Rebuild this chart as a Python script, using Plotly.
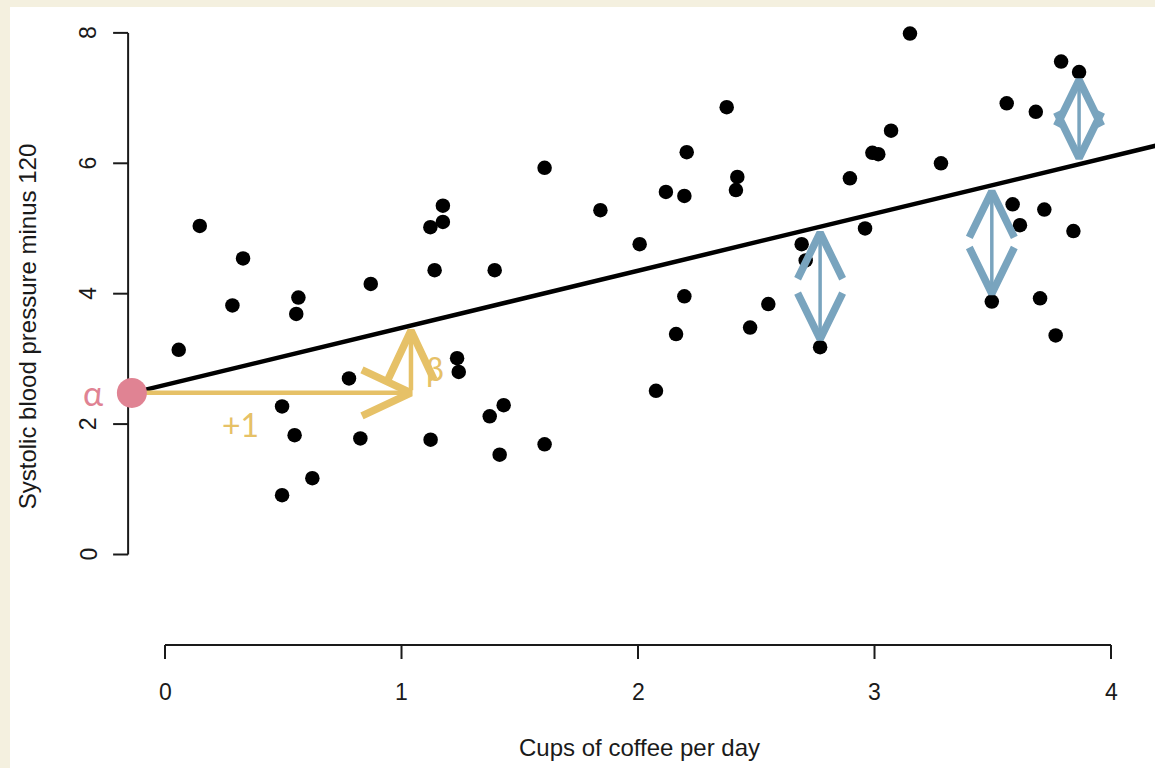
import plotly.graph_objects as go

# Observations: cups of coffee per day vs systolic blood pressure minus 120
cups = [0.058, 0.147, 0.285, 0.330, 0.495, 0.495, 0.548, 0.555, 0.564, 0.623,
        0.778, 0.826, 0.870, 1.122, 1.123, 1.140, 1.175, 1.175, 1.235, 1.242,
        1.373, 1.394, 1.415, 1.432, 1.605, 1.605, 1.841, 2.007, 2.076, 2.118,
        2.161, 2.196, 2.196, 2.206, 2.474, 2.375, 2.420, 2.414, 2.551, 2.692,
        2.709, 2.770, 2.896, 2.960, 2.991, 3.016, 3.070, 3.150, 3.281, 3.496,
        3.559, 3.584, 3.615, 3.682, 3.700, 3.718, 3.766, 3.789, 3.841, 3.865]
pressure = [3.14, 5.04, 3.82, 4.54, 2.27, 0.91, 1.83, 3.69, 3.94, 1.17,
            2.70, 1.78, 4.15, 5.02, 1.76, 4.36, 5.35, 5.10, 3.01, 2.80,
            2.12, 4.36, 1.53, 2.29, 1.69, 5.93, 5.28, 4.76, 2.51, 5.56,
            3.38, 5.50, 3.96, 6.17, 3.48, 6.86, 5.79, 5.59, 3.84, 4.76,
            4.51, 3.18, 5.77, 5.00, 6.16, 6.14, 6.50, 7.99, 6.00, 3.88,
            6.92, 5.37, 5.05, 6.79, 3.93, 5.29, 3.36, 7.56, 4.96, 7.40]

# Fitted regression line: pressure = alpha + beta * cups
alpha = 2.60
beta = 0.876

# Observations whose residuals are marked with double arrows
residual_idx = [41, 49, 59]

x_ticks = [0, 1, 2, 3, 4]
y_ticks = [0, 2, 4, 6, 8]
x_title = "Cups of coffee per day"
y_title = "Systolic blood pressure minus 120"

# ---- layout geometry ----
W, H = 1155, 768
M_L, M_T = 10, 7
X_RANGE = [-0.6554, 4.186]
Y_RANGE = [-3.2745, 8.397]
PXX = (W - M_L) / (X_RANGE[1] - X_RANGE[0])   # pixels per x unit
PXY = (H - M_T) / (Y_RANGE[1] - Y_RANGE[0])   # pixels per y unit

AXIS_X = -0.156          # position of the left axis
AXIS_Y = -1.388          # position of the bottom axis
INK = "#1a1a1a"
BLUE = "#79a4be"
GOLD = "#e6c167"
PINK = "#e08393"
R_FONT = "Liberation Sans, Arial, Helvetica, sans-serif"
NOTE_FONT = "Lato, Open Sans, sans-serif"

fig = go.Figure()


def line_trace(xs, ys, color, width):
    fig.add_trace(go.Scatter(x=xs, y=ys, mode="lines",
                             line=dict(color=color, width=width),
                             hoverinfo="skip", showlegend=False))


def head(tx, ty, direction, length_px, half_px, color, width):
    if direction == "up":
        xs = [tx - half_px / PXX, tx, tx + half_px / PXX]
        ys = [ty - length_px / PXY, ty, ty - length_px / PXY]
    elif direction == "down":
        xs = [tx - half_px / PXX, tx, tx + half_px / PXX]
        ys = [ty + length_px / PXY, ty, ty + length_px / PXY]
    else:  # right
        xs = [tx - length_px / PXX, tx, tx - length_px / PXX]
        ys = [ty + half_px / PXY, ty, ty - half_px / PXY]
    line_trace(xs, ys, color, width)


# axes drawn R-style: line from first to last tick
ax_x, ax_y = [AXIS_X, AXIS_X], [y_ticks[0], y_ticks[-1]]
for t in y_ticks:
    ax_x += [None, AXIS_X, AXIS_X - 15 / PXX]
    ax_y += [None, t, t]
line_trace(ax_x, ax_y, INK, 2)

bx_x, bx_y = [x_ticks[0], x_ticks[-1]], [AXIS_Y, AXIS_Y]
for t in x_ticks:
    bx_x += [None, t, t]
    bx_y += [None, AXIS_Y, AXIS_Y - 14 / PXY]
line_trace(bx_x, bx_y, INK, 2)

# regression line across the plotting region
x_lo, x_hi = AXIS_X, X_RANGE[1] + 0.1
line_trace([x_lo, x_hi], [alpha + beta * x_lo, alpha + beta * x_hi], "black", 4.5)

# observations
fig.add_trace(go.Scatter(x=cups, y=pressure, mode="markers",
                         marker=dict(color="black", size=14.5, line=dict(width=0)),
                         hoverinfo="skip", showlegend=False))

# residual double arrows between observation and fitted value
for i in residual_idx:
    xi, yi = cups[i], pressure[i]
    fit = alpha + beta * xi
    gap_fit, gap_obs = 6 / PXY, 8 / PXY
    if yi < fit:
        top, bot = fit - gap_fit, yi + gap_obs
    else:
        top, bot = yi - gap_obs, fit + gap_fit
    line_trace([xi, xi], [bot, top], BLUE, 3.5)
    head(xi, top, "up", 46, 22.5, BLUE, 7.5)
    head(xi, bot, "down", 46, 22.5, BLUE, 7.5)

# intercept marker and unit-step construction
x0 = -0.14
step_y = 2.48
step_x = 1.04
line_trace([x0, step_x], [step_y, step_y], GOLD, 4.5)
head(step_x, step_y, "right", 49, 23, GOLD, 7.5)
rise_top = alpha + beta * step_x - 5 / PXY
line_trace([step_x, step_x], [step_y + 0.04, rise_top], GOLD, 4.5)
head(step_x, rise_top, "up", 49, 23, GOLD, 7.5)

fig.add_trace(go.Scatter(x=[x0], y=[alpha + beta * x0], mode="markers",
                         marker=dict(color=PINK, size=30, line=dict(width=0)),
                         hoverinfo="skip", showlegend=False))

annotations = []
for t in x_ticks:
    annotations.append(dict(x=t, y=AXIS_Y - 47 / PXY, text=str(t), showarrow=False,
                            font=dict(family=R_FONT, size=23, color=INK),
                            xanchor="center", yanchor="middle"))
for t in y_ticks:
    annotations.append(dict(x=AXIS_X - 40 / PXX, y=t, text=str(t), showarrow=False,
                            textangle=-90,
                            font=dict(family=R_FONT, size=23, color=INK),
                            xanchor="center", yanchor="middle"))
annotations.append(dict(x=2.008, y=-2.96, text=x_title, showarrow=False,
                        font=dict(family=R_FONT, size=24, color=INK),
                        xanchor="center", yanchor="middle"))
annotations.append(dict(x=-0.5835, y=3.50, text=y_title, showarrow=False,
                        textangle=-90,
                        font=dict(family=R_FONT, size=24, color=INK),
                        xanchor="center", yanchor="middle"))
annotations.append(dict(x=-0.304, y=2.48, text="α", showarrow=False,
                        font=dict(family=NOTE_FONT, size=34, color=PINK),
                        xanchor="center", yanchor="middle"))
annotations.append(dict(x=0.321, y=2.00, text="+1", showarrow=False,
                        font=dict(family=NOTE_FONT, size=32, color=GOLD),
                        xanchor="center", yanchor="middle"))
annotations.append(dict(x=1.14, y=2.86, text="β", showarrow=False,
                        font=dict(family=NOTE_FONT, size=32, color=GOLD),
                        xanchor="center", yanchor="middle"))

hidden = dict(visible=False, showgrid=False, zeroline=False, fixedrange=True)
fig.update_layout(
    width=W, height=H,
    margin=dict(l=M_L, t=M_T, r=0, b=0, pad=0),
    paper_bgcolor="#f4f0df",
    plot_bgcolor="white",
    xaxis=dict(range=X_RANGE, **hidden),
    yaxis=dict(range=Y_RANGE, **hidden),
    annotations=annotations,
    showlegend=False,
)

fig.write_html("out.html")
